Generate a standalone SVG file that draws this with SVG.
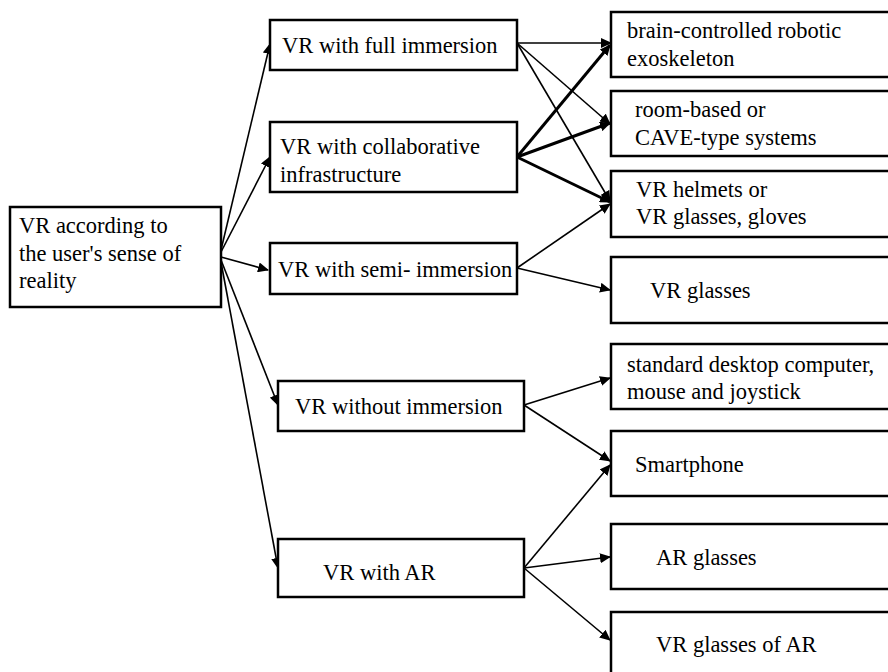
<svg xmlns="http://www.w3.org/2000/svg" width="888" height="672" viewBox="0 0 888 672">
<style>
.box{fill:#fff;stroke:#000;stroke-width:2.5}
.t{font-family:"Liberation Serif","Times New Roman",serif;font-size:22.5px;fill:#000}
.c{stroke:#000;stroke-width:1.6;fill:none}
.k{stroke:#000;stroke-width:3;fill:none}
</style>
<defs>
<marker id="a" markerUnits="userSpaceOnUse" markerWidth="12" markerHeight="10" refX="10" refY="5" orient="auto">
<path d="M0,0 L11,5 L0,10 z" fill="#000"/>
</marker>
</defs>
<rect width="888" height="672" fill="#fff"/>
<g id="connectors">
<line class="c" x1="221" y1="250" x2="270" y2="44" marker-end="url(#a)"/>
<line class="c" x1="221" y1="252" x2="270" y2="157" marker-end="url(#a)"/>
<line class="c" x1="221" y1="257" x2="268" y2="270" marker-end="url(#a)"/>
<line class="c" x1="221" y1="260" x2="278" y2="405" marker-end="url(#a)"/>
<line class="c" x1="221" y1="262" x2="278" y2="568" marker-end="url(#a)"/>
<line class="c" x1="517" y1="43" x2="611" y2="43" marker-end="url(#a)"/>
<line class="c" x1="517" y1="43" x2="610" y2="124" marker-end="url(#a)"/>
<line class="c" x1="517" y1="43" x2="610" y2="201" marker-end="url(#a)"/>
<line class="k" x1="517" y1="157" x2="610" y2="45" marker-end="url(#a)"/>
<line class="k" x1="517" y1="157" x2="610" y2="123" marker-end="url(#a)"/>
<line class="k" x1="517" y1="157" x2="610" y2="202" marker-end="url(#a)"/>
<line class="c" x1="517" y1="268" x2="610" y2="204" marker-end="url(#a)"/>
<line class="c" x1="517" y1="268" x2="610" y2="290" marker-end="url(#a)"/>
<line class="c" x1="524" y1="405" x2="610" y2="378" marker-end="url(#a)"/>
<line class="c" x1="524" y1="405" x2="610" y2="461" marker-end="url(#a)"/>
<line class="c" x1="524" y1="568" x2="610" y2="465" marker-end="url(#a)"/>
<line class="c" x1="524" y1="568" x2="610" y2="557" marker-end="url(#a)"/>
<line class="c" x1="524" y1="568" x2="610" y2="640" marker-end="url(#a)"/>
</g>
<g id="root">
<rect class="box" x="10" y="207" width="211" height="100"/>
<text class="t" x="19" y="233">VR according to</text>
<text class="t" x="19" y="261">the user's sense of</text>
<text class="t" x="19" y="288">reality</text>
</g>
<g id="full">
<rect class="box" x="270" y="20" width="247" height="50"/>
<text class="t" x="282" y="53">VR with full immersion</text>
</g>
<g id="collab">
<rect class="box" x="270" y="122" width="247" height="70"/>
<text class="t" x="280" y="154">VR with collaborative</text>
<text class="t" x="280" y="182">infrastructure</text>
</g>
<g id="semi">
<rect class="box" x="270" y="243" width="247" height="51"/>
<text class="t" x="278" y="277">VR with semi- immersion</text>
</g>
<g id="without">
<rect class="box" x="278" y="381" width="246" height="50"/>
<text class="t" x="295" y="414">VR without immersion</text>
</g>
<g id="ar">
<rect class="box" x="278" y="539" width="246" height="58"/>
<text class="t" x="323" y="580">VR with AR</text>
</g>
<g id="exo">
<rect class="box" x="611" y="12" width="290" height="65"/>
<text class="t" x="627" y="38">brain-controlled robotic</text>
<text class="t" x="627" y="66">exoskeleton</text>
</g>
<g id="cave">
<rect class="box" x="611" y="91" width="290" height="65"/>
<text class="t" x="635" y="117">room-based or</text>
<text class="t" x="635" y="145">CAVE-type systems</text>
</g>
<g id="helmets">
<rect class="box" x="611" y="171" width="290" height="66"/>
<text class="t" x="636" y="197">VR helmets or</text>
<text class="t" x="636" y="224">VR glasses, gloves</text>
</g>
<g id="vrglasses">
<rect class="box" x="611" y="257" width="290" height="66"/>
<text class="t" x="650" y="298">VR glasses</text>
</g>
<g id="desktop">
<rect class="box" x="611" y="344" width="290" height="65"/>
<text class="t" x="627" y="372">standard desktop computer,</text>
<text class="t" x="627" y="399">mouse and joystick</text>
</g>
<g id="smartphone">
<rect class="box" x="611" y="431" width="290" height="65"/>
<text class="t" x="635" y="472">Smartphone</text>
</g>
<g id="arglasses">
<rect class="box" x="611" y="524" width="290" height="65"/>
<text class="t" x="656" y="565">AR glasses</text>
</g>
<g id="vrglassesar">
<rect class="box" x="611" y="612" width="290" height="80"/>
<text class="t" x="656" y="652">VR glasses of AR</text>
</g>
</svg>
